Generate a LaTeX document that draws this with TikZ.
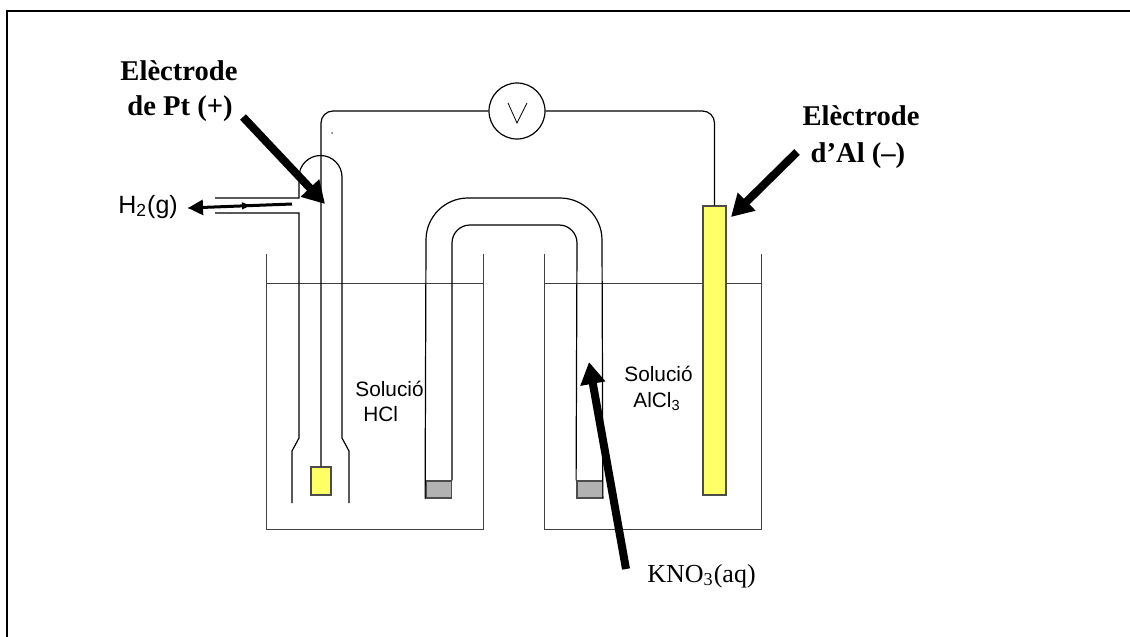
\documentclass[tikz,border=0pt]{standalone}
\usepackage{xcolor}
\usepackage{fontspec}
\setmainfont{Liberation Serif}
\setsansfont{Liberation Sans}
\usepackage{tikz}
\usetikzlibrary{arrows.meta}
\definecolor{metal}{RGB}{255,255,102}
\definecolor{plug}{RGB}{178,178,178}

\begin{document}
\begin{tikzpicture}[
    x=0.5pt, y=-0.5pt,
    glass/.style={draw=black, line width=0.6pt},
    beaker/.style={draw=black!75, line width=0.55pt},
    wire/.style={draw=black, line width=0.6pt, rounded corners=6pt},
    electrode/.style={rectangle, draw=black!70, fill=metal, line width=0.7pt, inner sep=0pt},
    plugbox/.style={rectangle, draw=black!70, fill=plug, line width=0.7pt, inner sep=0pt, minimum width=12.7pt, minimum height=8.5pt},
    meter/.style={circle, draw=black, line width=0.6pt, fill=white, minimum size=28pt, inner sep=0pt},
    arrow/.style={-{Triangle[length=11pt,width=12pt]}, line width=4pt},
    thinarrow/.style={-{Triangle[length=7.5pt,width=7.5pt]}, line width=1.5pt},
    bold/.style={font=\fontsize{14.3}{17}\selectfont\bfseries, inner sep=0pt, anchor=base},
    serif/.style={font=\fontsize{13}{15}\selectfont, inner sep=0pt, anchor=base west},
    sans/.style={font=\sffamily\fontsize{10.4}{12}\selectfont, inner sep=0pt, anchor=base west}
]
\useasboundingbox (0,0) rectangle (1130,637);

% frame
\draw[line width=1pt] (7,637) -- (7,11) -- (1130,11);

% beakers
\draw[beaker] (266.5,254) -- (266.5,529.5) -- (483.5,529.5) -- (483.5,254);
\draw[beaker] (544.5,254) -- (544.5,529.5) -- (761.5,529.5) -- (761.5,254);
\draw[beaker] (266.5,283.5) -- (483.5,283.5);
\draw[beaker] (544.5,283.5) -- (761.5,283.5);

% electrodes and meter
\node[electrode, minimum width=10pt, minimum height=14pt] (pt) at (321,481) {};
\node[electrode, minimum width=11.5pt, minimum height=144.5pt] (al) at (714.5,350.5) {};
\node[meter] (volt) at (517,111) {};
\draw[line width=0.4pt] (508,103) -- (517,123) -- (527,103);
\draw[wire] (pt.north) |- (volt.west);
\draw[wire] (al.north) |- (volt.east);
\fill[black!60] (332,133) circle[radius=1];

% bridge
\node[plugbox] (plugl) at (438.5,489.5) {};
\node[plugbox] (plugr) at (589.5,489.5) {};
\draw[glass] (plugl.south west) -- (426,240) arc[start angle=180, end angle=270, radius=42] -- (560,198) arc[start angle=270, end angle=360, radius=42] -- (plugr.south east);
\draw[glass] (plugl.north east) -- (452,243) arc[start angle=180, end angle=270, radius=18] -- (559,225) arc[start angle=270, end angle=360, radius=18] -- (plugr.north west);

% gas tube
\draw[glass] (215,198) -- (299,198) -- (299,177) arc[start angle=180, end angle=360, radius=21.5] -- (342,438) -- (349,451) -- (349,503);
\draw[glass] (215,213) -- (299,213) -- (299,438) -- (292,451) -- (292,503);

% labels
\node[bold] (ptlabela) at (179,80) {Elèctrode};
\node[bold] (ptlabelb) at (180,115) {de Pt (+)};
\node[bold] (allabela) at (861,125) {Elèctrode};
\node[bold] (allabelb) at (858,162) {d’Al (--)};
\node[sans, font=\sffamily\fontsize{12.5}{15}\selectfont] (gas) at (118,213) {H\textsubscript{2}(g)};
\node[serif] (kno) at (647,582) {KNO\textsubscript{3}(aq)};
\node[sans] (hcla) at (355,396) {Solució};
\node[sans] (hclb) at (363,421) {HCl};
\node[sans] (alcla) at (624,381) {Solució};
\node[sans] (alclb) at (633,407) {AlCl\textsubscript{3}};

% pointers
\coordinate (ptstart) at (243,117);
\coordinate (pttip) at (325,204);
\coordinate (alstart) at (797,152);
\coordinate (altip) at (731,217);
\coordinate (knostart) at (626,569);
\coordinate (knotip) at (589,362);
\coordinate (gasstart) at (292,204);
\coordinate (gastip) at (188,208);
\coordinate (gasmark) at (250,205.5);
\draw[arrow] (ptstart) -- (pttip);
\draw[arrow] (alstart) -- (altip);
\draw[arrow] (knostart) -- (knotip);
\draw[thinarrow] (gasstart) -- (gastip);
\draw[-{Triangle[length=4pt,width=3.5pt]}, line width=0.4pt] (gastip) -- (gasmark);

\end{tikzpicture}
\end{document}
